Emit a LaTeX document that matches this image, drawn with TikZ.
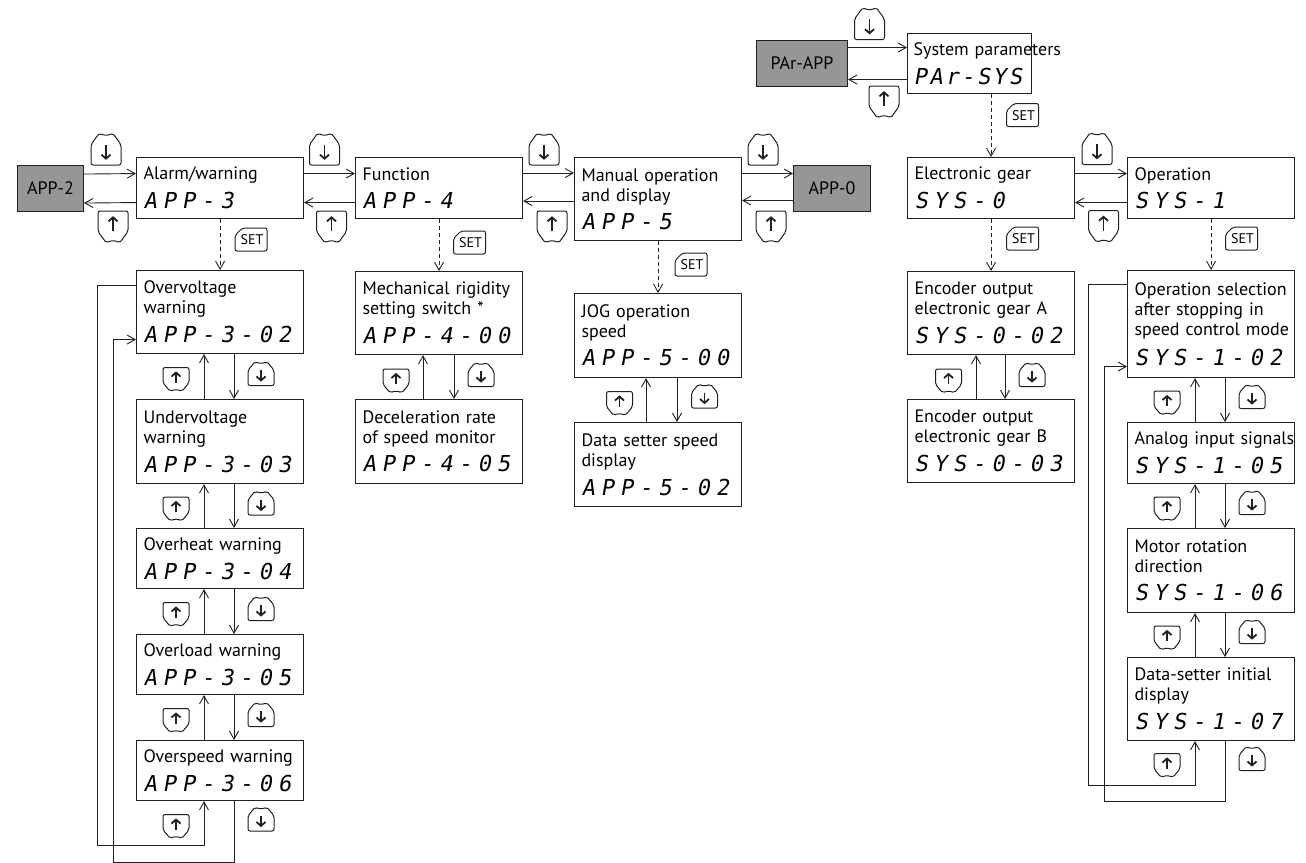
\documentclass[tikz,border=0pt]{standalone}
\usepackage{fontspec}
\setmainfont{PT Sans}
\newfontfamily\segfont[FakeSlant=0.18,LetterSpace=27]{DejaVu Sans Mono}
\newfontfamily\segfontn[FakeSlant=0.18,LetterSpace=12]{DejaVu Sans Mono}
\usepackage{tikz}
\usetikzlibrary{arrows.meta, positioning, calc}
\definecolor{linecol}{RGB}{35,31,32}
\definecolor{keygray}{RGB}{150,150,150}
\newcommand{\segtext}[1]{{\segfont\fontsize{22}{22}\selectfont #1}}
\newcommand{\segnarrow}[1]{{\segfontn\fontsize{22}{22}\selectfont #1}}
% key outline with the pointed edge on top, #1 width, #2 height
\newcommand{\keybody}[2]{%
  \draw[linecol, line width=1pt, fill=white, rounded corners=2pt]
    ({-#1/2},{#2/2}) -- ({-#1/2},{-0.14*#2}) -- ({-0.22*#1},{-#2/2})
    .. controls ({-0.08*#1},{-0.42*#2}) and ({0.08*#1},{-0.42*#2}) .. ({0.22*#1},{-#2/2})
    -- ({#1/2},{-0.14*#2}) -- ({#1/2},{#2/2}) -- cycle;
  \draw[linecol, line width=1.8pt, -{Straight Barb[length=4pt,width=9pt]}]
    (0,{-0.14*#2}) -- (0,{0.34*#2});}
\tikzset{
  menubox/.style={draw=linecol, line width=1.1pt, anchor=north west,
    minimum width=167pt, text width=153pt, inner xsep=7pt, inner ysep=0pt,
    align=left, execute at begin node={\hyphenpenalty=10000\exhyphenpenalty=10000}},
  graybox/.style={draw=linecol, line width=1.1pt, fill=keygray,
    anchor=north west, minimum height=46pt, inner sep=0pt},
  arr/.style={linecol, line width=0.9pt, -{Straight Barb[length=8pt,width=9pt]}},
  setarr/.style={arr, dash pattern=on 4pt off 3pt},
  pics/downkey/.style 2 args={code={\keybody{#1}{#2}}},
  pics/upkey/.style 2 args={code={\begin{scope}[yscale=-1]\keybody{#1}{#2}\end{scope}}},
  pics/setkey/.style={code={
    \draw[linecol, line width=1pt, rounded corners=2pt]
      (-16,11.5) -- (-16,-4) -- (-8.5,-11.5) -- (16,-11.5) -- (16,11.5) -- cycle;
    \node[font=\fontsize{14}{14}\selectfont, inner sep=0pt] (-t) at (1,0.5) {SET};}}
}
\begin{document}
\begin{tikzpicture}[x=1pt, y=-1pt, font=\fontsize{18}{20}\selectfont]
  \useasboundingbox (0,0) rectangle (1306,862);

  % top level
  \node[graybox, minimum width=91pt] (parapp) at (756,40) {PAr-APP};
  \node[menubox, minimum width=124pt, text width=112pt, inner xsep=6pt,
        minimum height=60pt] (sysprm) at (907,33)
    {System~parameters\\[8pt]\segnarrow{PAr-SYS}};
  \draw[arr] ([yshift=16pt]parapp.east) -- ([yshift=16pt]sysprm.west);
  \draw[arr] ([yshift=-16pt]sysprm.west) -- ([yshift=-16pt]parapp.east);
  \pic at (869.5,23.5) {downkey={30}{32}};
  \pic at (884,102) {upkey={30}{32}};

  % APP menus
  \node[graybox, minimum width=66pt] (app2) at (17,165) {APP-2};
  \node[menubox, minimum height=61pt] (alarm) at (136,157)
    {Alarm/warning\\[8pt]\segtext{APP-3}};
  \node[menubox, minimum height=61pt] (function) at (355,157)
    {Function\\[8pt]\segtext{APP-4}};
  \node[menubox, minimum height=83pt] (manual) at (574,157)
    {Manual operation\\and display\\[8pt]\segtext{APP-5}};
  \node[graybox, minimum width=77pt] (app0) at (793,165) {APP-0};

  \draw[arr] ([yshift=14.5pt]app2.east) -- ([yshift=14.5pt]alarm.west);
  \draw[arr] ([yshift=-14.5pt]alarm.west) -- ([yshift=-14.5pt]app2.east);
  \draw[arr] ([yshift=14.5pt]alarm.east) -- ([yshift=14.5pt]function.west);
  \draw[arr] ([yshift=-14.5pt]function.west) -- ([yshift=-14.5pt]alarm.east);
  \draw[arr] ([yshift=15pt]function.east) -- ([yshift=15pt]function.east -| manual.west);
  \draw[arr] ([yshift=-13pt]function.east -| manual.west) -- ([yshift=-13pt]function.east);
  \draw[arr] ([yshift=15pt]app0.west -| manual.east) -- ([yshift=15pt]app0.west);
  \draw[arr] ([yshift=-12pt]app0.west) -- ([yshift=-12pt]app0.west -| manual.east);
  \foreach \xd/\xu in {106/113, 324.5/331.5, 544/552, 763/771} {
    \pic at (\xd,149) {downkey={30}{32}};
    \pic at (\xu,227) {upkey={30}{32}};
  }

  % SYS menus
  \node[menubox, minimum height=61pt] (egear) at (907,157)
    {Electronic gear\\[8pt]\segtext{SYS-0}};
  \node[menubox, minimum height=61pt] (operation) at (1127,157)
    {Operation\\[8pt]\segtext{SYS-1}};
  \draw[arr] ([yshift=14.5pt]egear.east) -- ([yshift=14.5pt]operation.west);
  \draw[arr] ([yshift=-14.5pt]operation.west) -- ([yshift=-14.5pt]egear.east);
  \pic at (1097,148.5) {downkey={30}{32}};
  \pic at (1103.5,226.5) {upkey={30}{32}};

  % SET steps
  \draw[setarr] (sysprm.south -| egear.north) -- (egear.north);
  \pic (set0) at (1022.5,115) {setkey};

  % alarm/warning column
  \node[menubox, minimum height=83pt] (ovv) at (136,270)
    {Overvoltage\\warning\\[8pt]\segtext{APP-3-02}};
  \node[menubox, minimum height=84pt] (unv) at (136,399)
    {Undervoltage\\warning\\[8pt]\segtext{APP-3-03}};
  \node[menubox, minimum height=60pt] (ovh) at (136,528)
    {Overheat warning\\[8pt]\segtext{APP-3-04}};
  \node[menubox, minimum height=60pt] (ovl) at (136,634)
    {Overload warning\\[8pt]\segtext{APP-3-05}};
  \node[menubox, minimum height=60pt] (ovs) at (136,740)
    {Overspeed~warning\\[8pt]\segtext{APP-3-06}};
  \draw[setarr] (alarm.south) -- (ovv.north);
  \pic (set1) at (251,239.5) {setkey};
  \foreach \hi/\lo in {ovv/unv, unv/ovh, ovh/ovl, ovl/ovs} {
    \draw[arr] ([xshift=68pt]\lo.north west) -- ([xshift=68pt]\hi.south west);
    \draw[arr] ([xshift=98pt]\hi.south west) -- ([xshift=98pt]\lo.north west);
  }
  \foreach \ym in {376, 505.5, 611, 717} {
    \pic at (176,\ym+3.5) {upkey={26}{24}};
    \pic at (261,\ym-2.5) {downkey={26}{24}};
  }
  \draw[arr] ([yshift=26.5pt]ovv.west) -- ++(-39,0) -- ++(0,560)
    -| ([xshift=68pt]ovs.south west);
  \draw[arr] ([xshift=98pt]ovs.south west) -- ++(0,61) -- ++(-121,0)
    |- ([yshift=-27.5pt]ovv.west);
  \pic at (176,826.5) {upkey={26}{24}};
  \pic at (261,819) {downkey={26}{24}};

  % function column
  \node[menubox, minimum height=83pt] (mech) at (355,271)
    {Mechanical~rigidity\\setting switch *\\[8pt]\segtext{APP-4-00}};
  \node[menubox, minimum height=84pt] (decel) at (355,399)
    {Deceleration rate\\of speed monitor\\[8pt]\segtext{APP-4-05}};
  \draw[setarr] (function.south) -- (mech.north);
  \pic (set2) at (469.5,242.5) {setkey};
  \draw[arr] ([xshift=68pt]decel.north west) -- ([xshift=68pt]mech.south west);
  \draw[arr] ([xshift=99pt]mech.south west) -- ([xshift=99pt]decel.north west);
  \pic at (396,381) {upkey={26}{24}};
  \pic at (481,374.5) {downkey={26}{24}};

  % manual operation column
  \node[menubox, minimum height=84pt] (jog) at (574,293)
    {JOG operation\\speed\\[8pt]\segtext{APP-5-00}};
  \node[menubox, minimum height=84pt] (dss) at (574,422)
    {Data setter speed\\display\\[8pt]\segtext{APP-5-02}};
  \draw[setarr] (manual.south) -- (jog.north);
  \pic (set3) at (691,264.5) {setkey};
  \draw[arr] ([xshift=72pt]dss.north west) -- ([xshift=72pt]jog.south west);
  \draw[arr] ([xshift=103pt]jog.south west) -- ([xshift=103pt]dss.north west);
  \pic at (619.5,403.5) {upkey={26}{24}};
  \pic at (704.5,396) {downkey={26}{24}};

  % electronic gear column
  \node[menubox, minimum height=83pt] (enca) at (907,271)
    {Encoder output\\electronic~gear~A\\[8pt]\segtext{SYS-0-02}};
  \node[menubox, minimum height=83pt] (encb) at (907,399)
    {Encoder output\\electronic~gear~B\\[8pt]\segtext{SYS-0-03}};
  \draw[setarr] (egear.south) -- (enca.north);
  \pic (set4) at (1022.5,238.5) {setkey};
  \draw[arr] ([xshift=69pt]encb.north west) -- ([xshift=69pt]enca.south west);
  \draw[arr] ([xshift=98pt]enca.south west) -- ([xshift=98pt]encb.north west);
  \pic at (948.5,381) {upkey={26}{24}};
  \pic at (1032,374.5) {downkey={26}{24}};

  % operation column
  \node[menubox, minimum height=107pt] (opsel) at (1127,270)
    {Operation~selection\\after~stopping~in\\speed~control~mode\\[10pt]\segtext{SYS-1-02}};
  \node[menubox, minimum height=61pt] (analog) at (1127,422)
    {Analog~input~signals\\[8pt]\segtext{SYS-1-05}};
  \node[menubox, minimum height=84pt] (motor) at (1127,528)
    {Motor rotation\\direction\\[8pt]\segtext{SYS-1-06}};
  \node[menubox, minimum height=83pt] (dsi) at (1127,657)
    {Data-setter~initial\\display\\[8pt]\segtext{SYS-1-07}};
  \draw[setarr] (operation.south) -- (opsel.north);
  \pic (set5) at (1241.5,238.5) {setkey};
  \foreach \hi/\lo in {opsel/analog, analog/motor, motor/dsi} {
    \draw[arr] ([xshift=68pt]\lo.north west) -- ([xshift=68pt]\hi.south west);
    \draw[arr] ([xshift=98pt]\hi.south west) -- ([xshift=98pt]\lo.north west);
  }
  \foreach \ym in {399.5, 505.5, 634.5} {
    \pic at (1167,\ym+3.5) {upkey={26}{24}};
    \pic at (1252,\ym-3) {downkey={26}{24}};
  }
  \draw[arr] ([yshift=39.5pt]opsel.west) -- ++(-39,0) -- ++(0,501)
    -| ([xshift=68pt]dsi.south west);
  \draw[arr] ([xshift=98pt]dsi.south west) -- ++(0,60) -- ++(-121,0)
    |- ([yshift=-42.5pt]opsel.west);
  \pic at (1167,765.5) {upkey={26}{24}};
  \pic at (1252,758.5) {downkey={26}{24}};
\end{tikzpicture}
\end{document}
